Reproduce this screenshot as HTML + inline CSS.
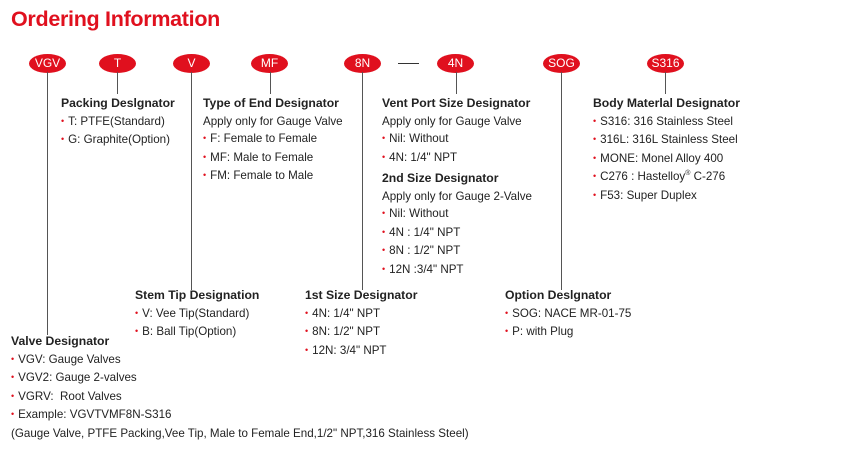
<!DOCTYPE html>
<html><head><meta charset="utf-8"><style>
body{margin:0;width:850px;height:453px;background:#fff;position:relative;overflow:hidden;font-family:"Liberation Sans",Arial,sans-serif;color:#222}
.t{position:absolute;left:11px;top:7px;font-size:21.5px;font-weight:bold;color:#e0101e;letter-spacing:-0.3px}
.o{position:absolute;height:19px;width:37px;border-radius:50%;background:#e0101e;color:#fff;font-size:12px;line-height:19px;text-align:center;top:54px}
.v{position:absolute;width:1px;background:#555;top:72px}
.b{position:absolute;font-size:11.6px;line-height:17.6px;white-space:nowrap}
.b h{display:block;font-weight:bold;font-size:12.2px}
.b i{font-style:normal;color:#e0101e;font-size:9px;margin-right:4px;position:relative;top:-1px}
sup{font-size:7px;line-height:0}
</style></head><body>
<div class="t">Ordering Information</div>
<div class="o" style="left:29px">VGV</div>
<div class="o" style="left:99px">T</div>
<div class="o" style="left:173px">V</div>
<div class="o" style="left:251px">MF</div>
<div class="o" style="left:344px">8N</div>
<div style="position:absolute;left:398px;top:63px;width:21px;height:1px;background:#333"></div>
<div class="o" style="left:437px">4N</div>
<div class="o" style="left:543px">SOG</div>
<div class="o" style="left:647px">S316</div>
<div class="v" style="left:47px;height:263px"></div>
<div class="v" style="left:117px;height:22px"></div>
<div class="v" style="left:191px;height:218px"></div>
<div class="v" style="left:270px;height:22px"></div>
<div class="v" style="left:362px;height:218px"></div>
<div class="v" style="left:456px;height:22px"></div>
<div class="v" style="left:561px;height:218px"></div>
<div class="v" style="left:665px;height:22px"></div>

<div class="b" style="left:61px;top:95px"><h>Packing Deslgnator</h><i>•</i>T: PTFE(Standard)<br><i>•</i>G: Graphite(Option)</div>
<div class="b" style="left:203px;top:95px"><h>Type of End Designator</h>Apply only for Gauge Valve<br><i>•</i>F: Female to Female<br><i>•</i>MF: Male to Female<br><i>•</i>FM: Female to Male</div>
<div class="b" style="left:382px;top:95px"><h>Vent Port Size Designator</h>Apply only for Gauge Valve<br><i>•</i>Nil: Without<br><i>•</i>4N: 1/4" NPT</div>
<div class="b" style="left:382px;top:170px"><h>2nd Size Designator</h>Apply only for Gauge 2-Valve<br><i>•</i>Nil: Without<br><i>•</i>4N : 1/4" NPT<br><i>•</i>8N : 1/2" NPT<br><i>•</i>12N :3/4" NPT</div>
<div class="b" style="left:593px;top:95px"><h>Body Materlal Designator</h><i>•</i>S316: 316 Stainless Steel<br><i>•</i>316L: 316L Stainless Steel<br><i>•</i>MONE: Monel Alloy 400<br><i>•</i>C276 : Hastelloy<sup>®</sup> C-276<br><i>•</i>F53: Super Duplex</div>
<div class="b" style="left:135px;top:287px"><h>Stem Tip Designation</h><i>•</i>V: Vee Tip(Standard)<br><i>•</i>B: Ball Tip(Option)</div>
<div class="b" style="left:305px;top:287px"><h>1st Size Designator</h><i>•</i>4N: 1/4" NPT<br><i>•</i>8N: 1/2" NPT<br><i>•</i>12N: 3/4" NPT</div>
<div class="b" style="left:505px;top:287px"><h>Option Deslgnator</h><i>•</i>SOG: NACE MR-01-75<br><i>•</i>P: with Plug</div>
<div class="b" style="left:11px;top:333px"><h>Valve Designator</h><i>•</i>VGV: Gauge Valves<br><i>•</i>VGV2: Gauge 2-valves<br><i>•</i>VGRV:&nbsp; Root Valves<br><i>•</i>Example: VGVTVMF8N-S316<br>(Gauge Valve, PTFE Packing,Vee Tip, Male to Female End,1/2" NPT,316 Stainless Steel)</div>
</body></html>
